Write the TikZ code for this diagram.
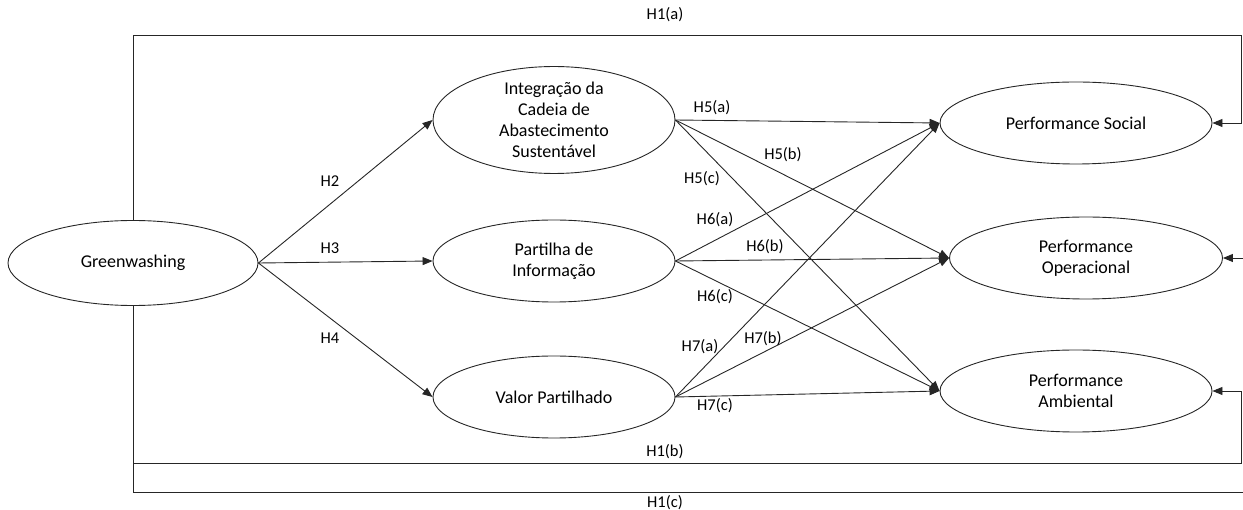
\documentclass[tikz,border=0pt]{standalone}
\usepackage{fontspec}
\setmainfont{Carlito}
\usetikzlibrary{shapes.geometric, arrows.meta}
\tikzset{
    construct/.style={draw, ellipse, inner sep=0pt, align=center,
      minimum width=242pt, minimum height=82pt,
      font=\fontsize{18}{21}\selectfont},
    hyp/.style={inner sep=0pt, font=\fontsize{16.5}{19}\selectfont},
    link/.style={-{Triangle[length=10pt, width=8pt]}}
}

\begin{document}
\begin{tikzpicture}[x=1pt, y=-1pt, line width=0.9pt, draw=black!85]
          \useasboundingbox (0,0) rectangle (1243,510);
          % constructs
          \node [construct, minimum width=250pt, minimum height=85pt] (gw) at (133,263) {Greenwashing};
          \node [construct] (isc) at (554,120) {Integração da\\Cadeia de\\Abastecimento\\Sustentável};
          \node [construct] (pi) at (554,261) {Partilha de\\Informação};
          \node [construct] (vp) at (554,397) {Valor Partilhado};
          \node [construct, minimum width=272pt] (ps) at (1076,123) {Performance Social};
          \node [construct, minimum width=273pt] (po) at (1086,258) {Performance\\Operacional};
          \node [construct, minimum width=272pt] (pa) at (1076,391) {Performance\\Ambiental};
          % corners of the long paths
          \coordinate (ca) at (1241,35);
          \coordinate (cb) at (1241,463);
          \coordinate (cc) at (1256,492);
          \draw [link] (gw.north) |- (ca) |- (ps.east);
          \draw [link] (gw.south) |- (cb) |- (pa.east);
          \draw [link] (gw.south) |- (cc) |- (po.east);
          \draw [link] (gw.east) -- (isc.west);
          \draw [link] (gw.east) -- (pi.west);
          \draw [link] (gw.east) -- (vp.west);
          \foreach \src in {isc, pi, vp} {
            \foreach \dst in {ps, po, pa} {
              \draw [link] (\src.east) -- (\dst.west);
            }
          }
          % labels
          \node [hyp] (l1a) at (665,15) {H1(a)};
          \node [hyp] (l1b) at (665,452) {H1(b)};
          \node [hyp] (l1c) at (665,503) {H1(c)};
          \node [hyp] (l2) at (330,181) {H2};
          \node [hyp] (l3) at (330,248) {H3};
          \node [hyp] (l4) at (330,338) {H4};
          \node [hyp] (l5a) at (712,108) {H5(a)};
          \node [hyp] (l5b) at (783,155) {H5(b)};
          \node [hyp] (l5c) at (702,179) {H5(c)};
          \node [hyp] (l6a) at (715,220) {H6(a)};
          \node [hyp] (l6b) at (765,247) {H6(b)};
          \node [hyp] (l6c) at (715,297) {H6(c)};
          \node [hyp] (l7a) at (700,347) {H7(a)};
          \node [hyp] (l7b) at (763,339) {H7(b)};
          \node [hyp] (l7c) at (715,406) {H7(c)};
        \end{tikzpicture}
\end{document}
